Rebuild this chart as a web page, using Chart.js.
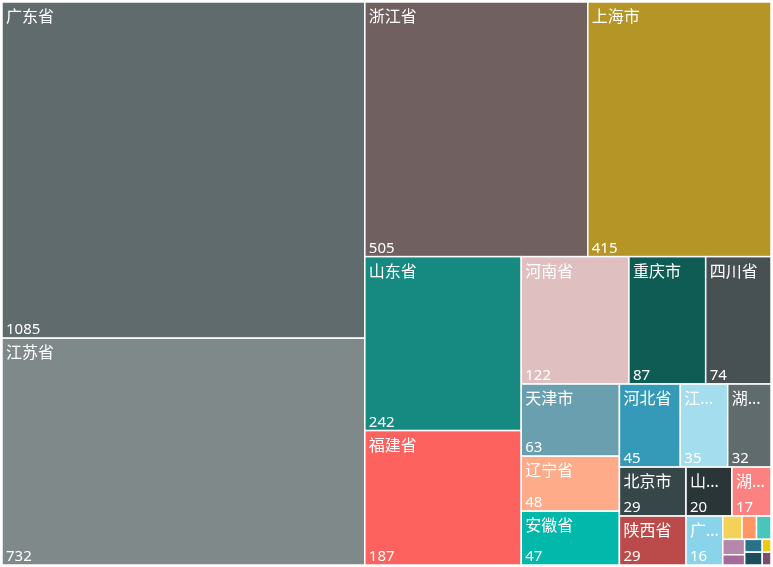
<!DOCTYPE html>
<html>
<head>
<meta charset="utf-8">
<script src="https://cdn.jsdelivr.net/npm/chart.js@4.4.0/dist/chart.umd.min.js"></script>
<style>
  body { margin: 0; background: #fff; }
</style>
</head>
<body>
<canvas id="myChart" width="773" height="567"></canvas>
<script>
/*-----data-----*/
var provinces = ['广东省', '江苏省', '浙江省', '上海市', '山东省', '福建省', '河南省', '重庆市', '四川省',
    '天津市', '辽宁省', '安徽省', '河北省', '江西省', '湖北省', '北京市', '陕西省', '山西省', '湖南省',
    '广西壮族自治区', '吉林省', '云南省', '海南省', '贵州省', '黑龙江省', '甘肃省', '内蒙古自治区',
    '新疆维吾尔自治区', '宁夏回族自治区'];
var counts = [1085, 732, 505, 415, 242, 187, 122, 87, 74,
    63, 48, 47, 45, 35, 32, 29, 29, 20, 17,
    16, 4, 3, 3, 3, 2, 2, 2, 1, 1];
var colors = ['#5F6B6D', '#7F898A', '#706060', '#B59525', '#168980', '#FD625E', '#DFBFBF', '#0F5C55', '#475052',
    '#6A9FB0', '#FDAB89', '#01B8AA', '#3599B8', '#A4DDEE', '#5F6B6D', '#374649', '#BB4A4A', '#293537', '#FB8281',
    '#8AD4EB', '#F4D25A', '#FE9666', '#4AC5BB', '#B687AC', '#A66999', '#28738A', '#1B4D5C', '#F2C80F', '#7B4F71'];

var W = 769, H = 563;
var PHI = (1 + Math.sqrt(5)) / 2;

/*-----squarified layout (golden ratio) in value space-----*/
function squarify(items) {
    var nodes = items.slice().sort(function(a, b) { return b.value - a.value; });
    var value = 0;
    for (var k = 0; k < nodes.length; k++) value += nodes[k].value;
    var rects = [];
    var x0 = 0, y0 = 0, x1 = W, y1 = H;
    var i0 = 0, i1 = 0, n = nodes.length;
    while (i0 < n) {
        var dx = x1 - x0, dy = y1 - y0;
        var sumValue = nodes[i1++].value;
        var minValue = sumValue, maxValue = sumValue;
        var alpha = Math.max(dy / dx, dx / dy) / (value * PHI);
        var beta = sumValue * sumValue * alpha;
        var minRatio = Math.max(maxValue / beta, beta / minValue);
        for (; i1 < n; ++i1) {
            var nv = nodes[i1].value;
            sumValue += nv;
            if (nv < minValue) minValue = nv;
            if (nv > maxValue) maxValue = nv;
            beta = sumValue * sumValue * alpha;
            var newRatio = Math.max(maxValue / beta, beta / minValue);
            if (newRatio > minRatio) { sumValue -= nv; break; }
            minRatio = newRatio;
        }
        var row = nodes.slice(i0, i1);
        if (dx < dy) {
            // horizontal strip along the top
            var ny = y0 + dy * sumValue / value, cx = x0;
            for (var j = 0; j < row.length; j++) {
                var nx = cx + (x1 - x0) * row[j].value / sumValue;
                rects.push({ d: row[j], x0: cx, y0: y0, x1: nx, y1: ny });
                cx = nx;
            }
            y0 = ny;
        } else {
            // vertical column on the left
            var nx2 = x0 + dx * sumValue / value, cy = y0;
            for (var j = 0; j < row.length; j++) {
                var ny2 = cy + (y1 - y0) * row[j].value / sumValue;
                rects.push({ d: row[j], x0: x0, y0: cy, x1: nx2, y1: ny2 });
                cy = ny2;
            }
            x0 = nx2;
        }
        value -= sumValue;
        i0 = i1;
    }
    return rects;
}

var items = [];
for (var i = 0; i < provinces.length; i++) {
    items.push({ name: provinces[i], value: counts[i], color: colors[i] });
}
var cells = squarify(items);

/*-----label helper-----*/
function fitText(ctx, text, maxW) {
    if (ctx.measureText(text).width <= maxW) return text;
    for (var n = text.length - 1; n > 0; n--) {
        var t = text.slice(0, n) + '...';
        if (ctx.measureText(t).width <= maxW) return t;
    }
    return null;
}

/*-----treemap plugin: cells drawn through the chart's x/y scales-----*/
var treemapPlugin = {
    id: 'treemapCells',
    afterDatasetsDraw: function(chart) {
        var ctx = chart.ctx;
        var xs = chart.scales.x, ys = chart.scales.y;
        ctx.save();
        for (var i = 0; i < cells.length; i++) {
            var c = cells[i];
            var px0 = xs.getPixelForValue(c.x0), px1 = xs.getPixelForValue(c.x1);
            var py0 = ys.getPixelForValue(c.y0), py1 = ys.getPixelForValue(c.y1);
            ctx.fillStyle = c.d.color;
            ctx.fillRect(px0, py0, px1 - px0, py1 - py0);
            ctx.strokeStyle = '#ffffff';
            ctx.lineWidth = 1.5;
            ctx.strokeRect(px0, py0, px1 - px0, py1 - py0);

            var cw = px1 - px0, ch = py1 - py0;
            if (cw < 28 || ch < 40) continue;
            ctx.fillStyle = '#ffffff';
            ctx.textAlign = 'left';
            ctx.textBaseline = 'alphabetic';
            ctx.font = '16px "Segoe UI", "Noto Sans", "Noto Sans CJK SC", sans-serif';
            var label = fitText(ctx, c.d.name, cw - 6);
            if (label) ctx.fillText(label, px0 + 4, py0 + 20);
            ctx.font = '15px "Segoe UI", "Noto Sans", "Noto Sans CJK SC", sans-serif';
            var val = String(c.d.value);
            if (ctx.measureText(val).width <= cw - 6) ctx.fillText(val, px0 + 4, py1 - 4);
        }
        ctx.restore();
    }
};

var ctx = document.getElementById('myChart').getContext('2d');
var myChart = new Chart(ctx, {
    type: 'scatter',
    data: {
        datasets: [{
            data: [],
            pointRadius: 0
        }]
    },
    options: {
        responsive: false,
        animation: false,
        devicePixelRatio: 1,
        layout: { padding: { left: 2, right: 2, top: 2, bottom: 2 } },
        scales: {
            x: { type: 'linear', min: 0, max: W, display: false },
            y: { type: 'linear', min: 0, max: H, reverse: true, display: false }
        },
        plugins: {
            legend: { display: false },
            tooltip: { enabled: false }
        }
    },
    plugins: [treemapPlugin]
});
</script>
</body>
</html>
